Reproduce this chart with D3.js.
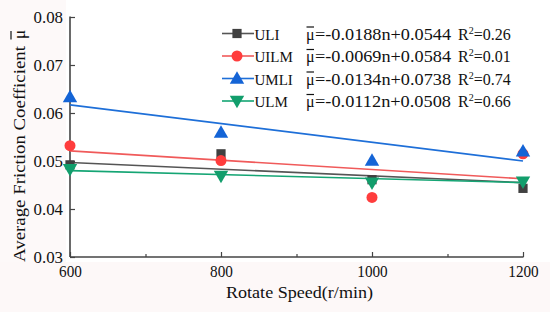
<!DOCTYPE html>
<html><head><meta charset="utf-8">
<script src="https://cdn.jsdelivr.net/npm/d3@7"></script>
<style>body{margin:0;background:#fff}svg{display:block}text{font-family:"Liberation Serif","Times New Roman",serif;fill:#111}</style>
</head><body><svg id="c" width="550" height="321"></svg>
<script>
const speeds = [600, 800, 1000, 1200];
const seriesNames = ["ULI", "UILM", "UMLI", "ULM"];
const uliValues  = [0.0492, 0.0515, 0.0461, 0.0443];
const uilmValues = [0.0532, 0.0501, 0.0424, 0.0515];
const umliValues = [0.0633, 0.0559, 0.0501, 0.0520];
const ulmValues  = [0.0483, 0.0469, 0.0455, 0.0457];
const fitStart = [0.0497, 0.0521, 0.0617, 0.0480];
const fitEnd   = [0.0455, 0.0463, 0.0500, 0.0455];
const equations = ["=-0.0188n+0.0544", "=-0.0069n+0.0584", "=-0.0134n+0.0738", "=-0.0112n+0.0508"];
const r2Labels = ["=0.26", "=0.01", "=0.74", "=0.66"];
const yTicks = [0.03, 0.04, 0.05, 0.06, 0.07, 0.08];
const xTicks = [600, 800, 1000, 1200];
const xMinorTicks = [700, 900, 1100];

const markerColors = ["#404040", "#ff3d3d", "#1464d6", "#129e6c"];
const lineColors = ["#555555", "#f05a5a", "#1e6fd8", "#15a574"];
const shapes = [d3.symbolSquare, d3.symbolCircle, d3.symbolTriangle, d3.symbolTriangle];
const sizes = [85, 95, 90, 90];
const rotations = [0, 0, 0, 180];
const allValues = [uliValues, uilmValues, umliValues, ulmValues];

const svg = d3.select("#c");
// faint tints from reference
svg.append("rect").attr("x",0).attr("y",262).attr("width",550).attr("height",50).attr("fill","#fdf8f8");
svg.append("rect").attr("x",0).attr("y",0).attr("width",66).attr("height",262).attr("fill","#fdf9f9");

const x = d3.scaleLinear().domain([600, 1200]).range([70, 523]);
const y = d3.scaleLinear().domain([0.03, 0.08]).range([257, 17]);

// axes
const axisColor = "#444";
const gx = svg.append("g").attr("transform","translate(0,257)");
gx.call(d3.axisBottom(x).tickValues(xTicks).tickSize(-5).tickFormat(d3.format("d")).tickPadding(10));
gx.append("g").call(d3.axisBottom(x).tickValues(xMinorTicks).tickSize(-3).tickFormat(""));
gx.selectAll(".domain").remove();
gx.append("line").attr("x1",70).attr("x2",523.5).attr("stroke",axisColor).attr("stroke-width",1.6);
gx.selectAll(".tick line").attr("stroke",axisColor).attr("stroke-width",1.2);
gx.selectAll(".tick text").attr("font-size",16).attr("fill","#111")
  .attr("font-family","Liberation Serif, serif").attr("dy",null).attr("y",20)
  .each(function(d){ d3.select(this).attr("textLength", String(d).length*7.6).attr("lengthAdjust","spacingAndGlyphs"); });

const gy = svg.append("g").attr("transform","translate(70,0)");
gy.call(d3.axisLeft(y).tickValues(yTicks).tickSize(-5).tickFormat(d3.format(".2f")).tickPadding(8));
gy.selectAll(".domain").remove();
gy.append("line").attr("y1",16.5).attr("y2",257).attr("stroke",axisColor).attr("stroke-width",1.6);
gy.selectAll(".tick line").attr("stroke",axisColor).attr("stroke-width",1.2);
gy.selectAll(".tick text").attr("font-size",16).attr("fill","#111")
  .attr("font-family","Liberation Serif, serif").attr("dy","0.32em").attr("x",-7)
  .attr("textLength",29.5).attr("lengthAdjust","spacingAndGlyphs");

// axis titles
svg.append("text").attr("x",226).attr("y",298).attr("font-size",17)
  .attr("textLength",147).attr("lengthAdjust","spacingAndGlyphs").text("Rotate Speed(r/min)");
const yt = svg.append("g").attr("transform","translate(25,262) rotate(-90)");
yt.append("text").attr("x",0).attr("y",0).attr("font-size",17)
  .attr("textLength",216).attr("lengthAdjust","spacingAndGlyphs").text("Average Friction Coefficient");
yt.append("text").attr("x",223).attr("y",0).attr("font-size",17).text("μ");
yt.append("line").attr("x1",222.5).attr("x2",231).attr("y1",-14).attr("y2",-14).attr("stroke","#111").attr("stroke-width",1.2);

// fit lines
seriesNames.forEach((n,i)=>{
  svg.append("line").attr("x1",x(600)).attr("x2",x(1200))
    .attr("y1",y(fitStart[i])).attr("y2",y(fitEnd[i]))
    .attr("stroke",lineColors[i]).attr("stroke-width",1.6);
});
// markers
seriesNames.forEach((n,i)=>{
  svg.append("g").selectAll("path").data(allValues[i]).join("path")
    .attr("d", d3.symbol(shapes[i], sizes[i]))
    .attr("transform",(d,j)=>`translate(${x(speeds[j])},${y(d)+(rotations[i]?-1:(shapes[i]===d3.symbolTriangle?1:0))}) rotate(${rotations[i]})`)
    .attr("fill",markerColors[i]);
});

// legend
const baselines = [39.5, 62, 84.5, 107];
seriesNames.forEach((n,i)=>{
  const b = baselines[i], cy = b-6;
  svg.append("line").attr("x1",222).attr("x2",254).attr("y1",cy).attr("y2",cy).attr("stroke",lineColors[i]).attr("stroke-width",1.6);
  svg.append("path").attr("d", d3.symbol(shapes[i], sizes[i]))
    .attr("transform",`translate(237,${cy+(rotations[i]?-1:(shapes[i]===d3.symbolTriangle?1:0))}) rotate(${rotations[i]})`)
    .attr("fill",markerColors[i]);
  svg.append("text").attr("x",254.5).attr("y",b).attr("font-size",15).text(n);
  svg.append("text").attr("x",306).attr("y",b).attr("font-size",16).text("μ");
  svg.append("line").attr("x1",306.5).attr("x2",314).attr("y1",b-12.5).attr("y2",b-12.5).attr("stroke","#111").attr("stroke-width",1.2);
  svg.append("text").attr("x",315).attr("y",b).attr("font-size",16)
    .attr("textLength",136).attr("lengthAdjust","spacingAndGlyphs").text(equations[i]);
  const r = svg.append("text").attr("x",458).attr("y",b).attr("font-size",16);
  r.append("tspan").text("R");
  r.append("tspan").attr("font-size",10).attr("dy",-6).text("2");
  r.append("tspan").attr("dy",6).text(r2Labels[i]);
});
</script></body></html>
